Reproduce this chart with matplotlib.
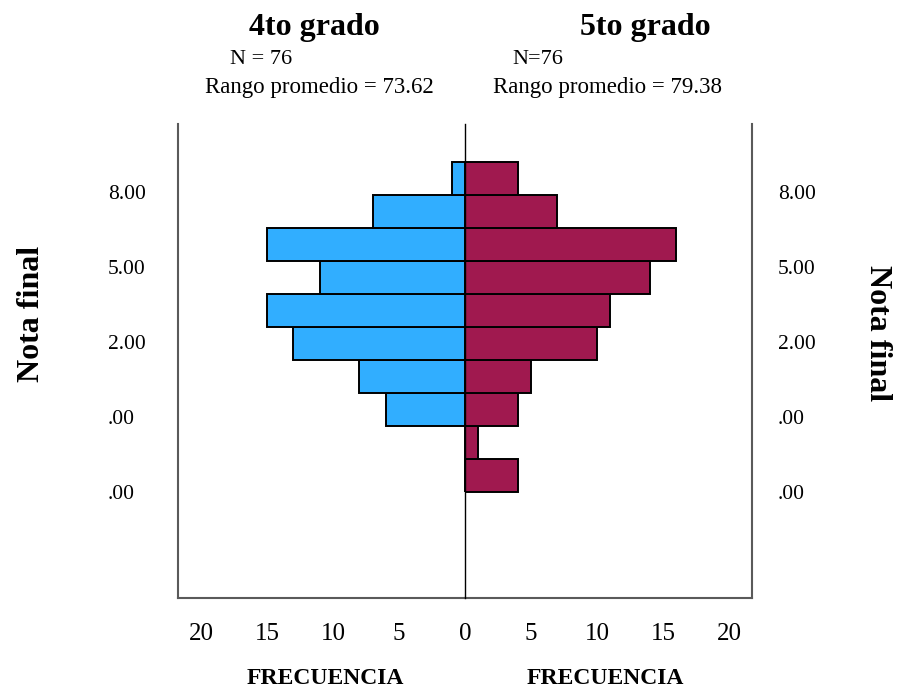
import matplotlib
matplotlib.use("Agg")
import matplotlib.pyplot as plt

plt.rcParams['font.family'] = ['Liberation Serif', 'DejaVu Serif']

# ---- data ----
bin_start = -4.0
bin_width = 1.32
grado4_counts = [0, 0, 6, 8, 13, 15, 11, 15, 7, 1]   # lowest bin -> highest bin
grado5_counts = [4, 1, 4, 5, 10, 11, 14, 16, 7, 4]
y_tick_values = [8, 5, 2, -1, -4]
y_tick_labels = ["8.00", "5.00", "2.00", ".00", ".00"]
x_ticks_left = [0, 5, 10, 15, 20]
x_ticks_right = [5, 10, 15, 20]
group_titles = ["4to grado", "5to grado"]
group_n = ["N = 76", "N=76"]
group_rank = ["Rango promedio = 73.62", "Rango promedio = 79.38"]
axis_title = "Nota final"
freq_label = "FRECUENCIA"

col4 = "#31AEFF"
col5 = "#A0194F"
spine_col = "#5a5a5a"

W, H = 904, 687
fig = plt.figure(figsize=(W / 100, H / 100), dpi=100)

ax_l, ax_c, ax_r = 178, 465, 752
ax_top, ax_bot = 124, 598
axL = fig.add_axes([ax_l / W, 1 - ax_bot / H, (ax_c - ax_l) / W, (ax_bot - ax_top) / H])
axR = fig.add_axes([ax_c / W, 1 - ax_bot / H, (ax_r - ax_c) / W, (ax_bot - ax_top) / H])
axR.patch.set_visible(False)

edges = [bin_start + i * bin_width for i in range(len(grado4_counts))]
xmax = (ax_c - ax_l) / 13.2
ylo, yhi = -8.24, 10.72

axL.barh(edges, grado4_counts, height=bin_width, align='edge', color=col4,
         edgecolor='black', linewidth=1.4, zorder=3)
axR.barh(edges, grado5_counts, height=bin_width, align='edge', color=col5,
         edgecolor='black', linewidth=1.4, zorder=3)

axL.set_xlim(xmax, 0)
axR.set_xlim(0, xmax)
for ax in (axL, axR):
    ax.set_ylim(ylo, yhi)
    ax.spines['top'].set_visible(False)
    ax.spines['bottom'].set_color(spine_col)
    ax.spines['bottom'].set_linewidth(1.5)
    ax.tick_params(axis='both', length=0)
    ax.tick_params(axis='x', labelsize=18, pad=18)
    ax.tick_params(axis='y', labelsize=15.5)

axL.spines['left'].set_color(spine_col)
axL.spines['left'].set_linewidth(1.5)
axL.spines['right'].set_visible(False)
axR.spines['left'].set_color('black')
axR.spines['left'].set_linewidth(1.0)
axR.spines['left'].set_zorder(5)
axR.spines['right'].set_color(spine_col)
axR.spines['right'].set_linewidth(1.5)

axL.set_xticks(x_ticks_left)
axL.set_xticklabels([str(v) for v in x_ticks_left])
axR.set_xticks(x_ticks_right)
axR.set_xticklabels([str(v) for v in x_ticks_right])

axL.set_yticks(y_tick_values)
axL.set_yticklabels(y_tick_labels)
axL.tick_params(axis='y', pad=(ax_l - 108) * 0.72)
for t in axL.get_yticklabels():
    t.set_horizontalalignment('left')

axR.yaxis.tick_right()
axR.set_yticks(y_tick_values)
axR.set_yticklabels(y_tick_labels)
axR.tick_params(axis='y', pad=(778 - ax_r) * 0.72)

# axis titles
fig.text(32 / W, 1 - 314 / H, axis_title, rotation=90, ha='center', va='center',
         fontsize=23, fontweight='bold')
fig.text(878 / W, 1 - 333 / H, axis_title, rotation=270, ha='center', va='center',
         fontsize=23, fontweight='bold')
fig.text(325 / W, 1 - 678 / H, freq_label, ha='center', va='center',
         fontsize=17, fontweight='bold')
fig.text(605 / W, 1 - 678 / H, freq_label, ha='center', va='center',
         fontsize=17, fontweight='bold')

# group headings
fig.text(314 / W, 1 - 27 / H, group_titles[0], ha='center', va='center',
         fontsize=23, fontweight='bold')
fig.text(645 / W, 1 - 27 / H, group_titles[1], ha='center', va='center',
         fontsize=23, fontweight='bold')
fig.text(261 / W, 1 - 59 / H, group_n[0], ha='center', va='center', fontsize=16)
fig.text(538 / W, 1 - 59 / H, group_n[1], ha='center', va='center', fontsize=16)
fig.text(319.5 / W, 1 - 88 / H, group_rank[0], ha='center', va='center', fontsize=16.5)
fig.text(607.5 / W, 1 - 88 / H, group_rank[1], ha='center', va='center', fontsize=16.5)

fig.savefig("out.png", dpi=100, facecolor='white')
